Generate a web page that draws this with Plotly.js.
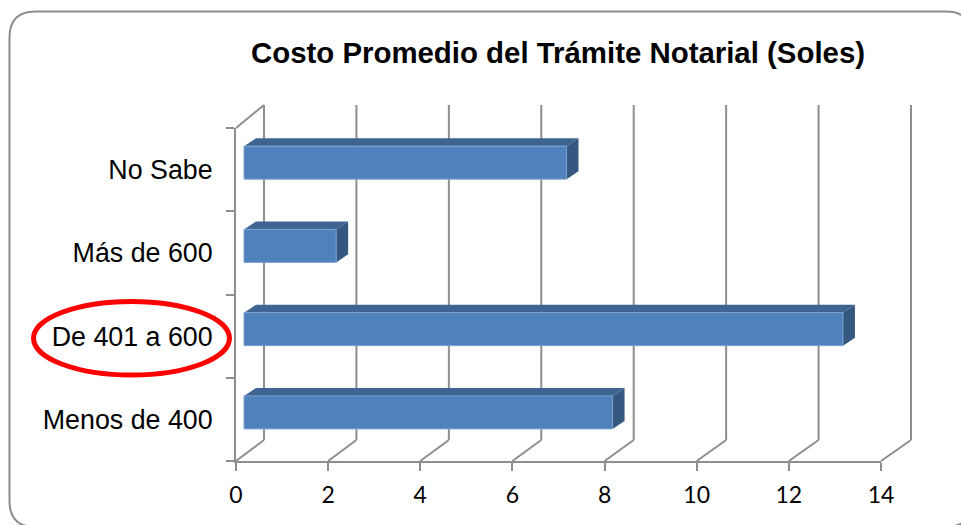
<!DOCTYPE html>
<html>
<head>
<meta charset="utf-8">
<script src="https://cdn.plot.ly/plotly-3.0.1.min.js"></script>
<style>html,body{margin:0;padding:0;background:#fff;overflow:hidden}#c{width:961px;height:525px}</style>
</head>
<body>
<div id="c"></div>
<script>
var categories = ["Menos de 400", "De 401 a 600", "Más de 600", "No Sabe"];
var values = [8, 13, 2, 7];
var xTicks = [0, 2, 4, 6, 8, 10, 12, 14];

var W = 961, H = 525;
var M = {l: 236, r: 80, t: 128, b: 64};
var plotW = W - M.l - M.r, plotH = H - M.t - M.b;
var pxX = plotW / 14;
var pxY = plotH / 4;
var GRID = "#8e8e8e";

// 3-D projection offsets in axis units
var wallDx0 = 28 / pxX, wallDxGrow = 2 / 14 / pxX;
var wallDyBottom = 21 / pxY, wallDyTop = 23 / pxY;
var barBase = 8 / pxX, depthDx = 12 / pxX, depthDy = 8 / pxY;
var barW = 33 / pxY, barShift = 7 / pxY;

// window pixels -> plot-area paper fractions
function px(x) { return (x - M.l) / plotW; }
function py(y) { return 1 - (y - M.t) / plotH; }
// axis values -> paper fractions, so the wall can extend past the plot area unclipped
function vx(v) { return v / 14; }
function vy(v) { return (v + 0.5) / 4; }

var shapes = [];
function line(x0, y0, x1, y1) {
  shapes.push({type: "line", xref: "paper", yref: "paper", layer: "below",
    x0: vx(x0), y0: vy(y0), x1: vx(x1), y1: vy(y1), line: {color: GRID, width: 2}});
}
xTicks.forEach(function (t) {
  var wx = t + wallDx0 + wallDxGrow * t;
  line(wx, -0.5 + wallDyBottom, wx, 3.5 + wallDyTop);
  line(t, -0.5, wx, -0.5 + wallDyBottom);
});
line(0, 3.5, wallDx0, 3.5 + wallDyTop);

values.forEach(function (v, i) {
  var y0 = i - barW / 2 + barShift, y1 = y0 + barW, x1 = barBase + v;
  shapes.push({type: "path", xref: "x", yref: "y", layer: "below", line: {width: 0}, fillcolor: "#3e6491",
    path: "M" + barBase + "," + y1 + " L" + x1 + "," + y1 + " L" + (x1 + depthDx) + "," + (y1 + depthDy) +
      " L" + (barBase + depthDx) + "," + (y1 + depthDy) + " Z"});
  shapes.push({type: "path", xref: "x", yref: "y", layer: "below", line: {width: 0}, fillcolor: "#34587f",
    path: "M" + x1 + "," + y0 + " L" + x1 + "," + y1 + " L" + (x1 + depthDx) + "," + (y1 + depthDy) +
      " L" + (x1 + depthDx) + "," + (y0 + depthDy) + " Z"});
});

// rounded chart frame
var fL = 9.5, fT = 11.5, fR = 972, fB = 527, r = 26;
shapes.push({type: "path", xref: "paper", yref: "paper", layer: "above", line: {color: "#8c8c8c", width: 2},
  path: "M" + px(fL + r) + "," + py(fT) + " L" + px(fR - r) + "," + py(fT) +
    " Q" + px(fR) + "," + py(fT) + " " + px(fR) + "," + py(fT + r) +
    " L" + px(fR) + "," + py(fB - r) + " Q" + px(fR) + "," + py(fB) + " " + px(fR - r) + "," + py(fB) +
    " L" + px(fL + r) + "," + py(fB) + " Q" + px(fL) + "," + py(fB) + " " + px(fL) + "," + py(fB - r) +
    " L" + px(fL) + "," + py(fT + r) + " Q" + px(fL) + "," + py(fT) + " " + px(fL + r) + "," + py(fT) + " Z"});

// red highlight ellipse
shapes.push({type: "circle", xref: "paper", yref: "paper", layer: "above",
  x0: px(33.5), x1: px(229.5), y0: py(375), y1: py(301.5), line: {color: "#ff0000", width: 5}});

var data = [{
  type: "bar", orientation: "h", y: categories, x: values, base: barBase,
  width: barW, offset: -barW / 2 + barShift,
  marker: {color: "#4f81bd", line: {color: "#7fa3d1", width: 1}},
  hoverinfo: "skip", showlegend: false
}];

var layout = {
  width: W, height: H, margin: M, showlegend: false,
  paper_bgcolor: "#fff", plot_bgcolor: "rgba(0,0,0,0)",
  title: {text: "<b>Costo Promedio del Trámite Notarial (Soles)</b>", xref: "container", yref: "container",
    x: 558 / W, y: 1 - 53 / H, xanchor: "center", yanchor: "middle",
    font: {family: "Liberation Sans", size: 29.4, color: "#000"}},
  xaxis: {range: [0, 14], tickvals: xTicks, ticktext: xTicks.map(String), showgrid: false, zeroline: false,
    showline: true, linecolor: GRID, linewidth: 2, ticks: "outside", ticklen: 8, tickwidth: 2, tickcolor: GRID,
    tickfont: {family: "Lato", size: 23, color: "#000"}, ticklabelstandoff: 4},
  yaxis: {type: "category", categoryorder: "array", categoryarray: categories, range: [-0.5, 3.5],
    showgrid: false, zeroline: false, showline: true, linecolor: GRID, linewidth: 2,
    ticks: "outside", tickson: "boundaries", ticklen: 8, tickwidth: 2, tickcolor: GRID,
    tickfont: {family: "Liberation Sans", size: 26.8, color: "#000"}, ticklabelstandoff: 16},
  shapes: shapes
};
Plotly.newPlot("c", data, layout, {displayModeBar: false, staticPlot: true});
</script>
</body>
</html>
